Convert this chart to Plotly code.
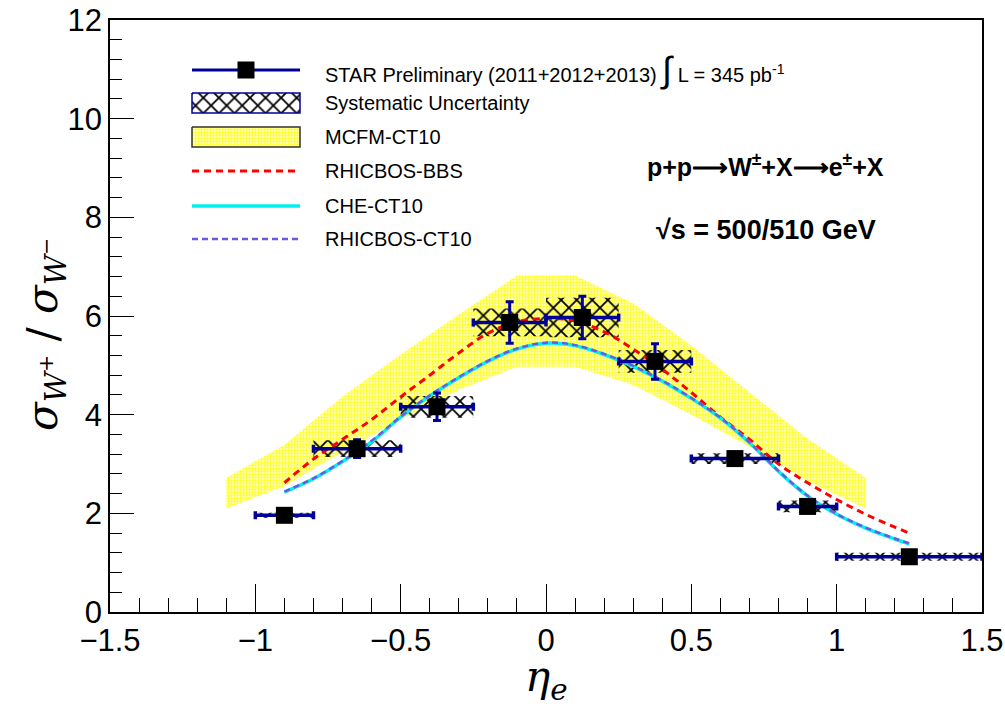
import plotly.graph_objects as go

# ---------------- data ----------------
eta = [-0.9, -0.65, -0.375, -0.125, 0.125, 0.375, 0.65, 0.9, 1.25]
eta_half = [0.1, 0.15, 0.125, 0.125, 0.125, 0.125, 0.15, 0.1, 0.25]
ratio = [1.96, 3.31, 4.16, 5.87, 5.97, 5.08, 3.11, 2.14, 1.12]
stat_err = [0.06, 0.18, 0.28, 0.42, 0.43, 0.36, 0.10, 0.12, 0.06]
sys_err = [0.05, 0.17, 0.22, 0.28, 0.40, 0.23, 0.11, 0.12, 0.08]

mcfm_eta = [-1.1, -0.9, -0.7, -0.5, -0.3, -0.1, 0.1, 0.3, 0.5, 0.7, 0.9, 1.1]
mcfm_hi = [2.72, 3.39, 4.37, 5.22, 6.03, 6.82, 6.82, 6.26, 5.40, 4.45, 3.51, 2.72]
mcfm_lo = [2.10, 2.55, 3.25, 3.90, 4.50, 4.97, 4.97, 4.60, 4.00, 3.35, 2.65, 2.10]

theo_eta = [-0.9, -0.8, -0.7, -0.6, -0.5, -0.4, -0.3, -0.2, -0.1, 0.0, 0.1, 0.2,
            0.3, 0.4, 0.5, 0.6, 0.7, 0.8, 0.9, 1.0, 1.1, 1.2, 1.25]
rhicbos_bbs = [2.62, 3.10, 3.50, 3.90, 4.36, 4.80, 5.25, 5.65, 5.88, 5.95, 5.90, 5.68,
               5.33, 4.92, 4.45, 3.95, 3.50, 3.00, 2.62, 2.28, 1.98, 1.72, 1.60]
che_ct10 = [2.43, 2.70, 3.05, 3.45, 3.95, 4.38, 4.75, 5.08, 5.33, 5.45, 5.40, 5.22,
            4.98, 4.68, 4.33, 3.93, 3.43, 2.85, 2.35, 1.98, 1.70, 1.48, 1.38]
rhicbos_ct10 = [2.44, 2.71, 3.06, 3.47, 3.96, 4.39, 4.76, 5.09, 5.34, 5.46, 5.41, 5.23,
                4.99, 4.69, 4.34, 3.94, 3.44, 2.86, 2.36, 1.99, 1.71, 1.49, 1.39]

x_ticks = [-1.5, -1.0, -0.5, 0.0, 0.5, 1.0, 1.5]
y_ticks = [0, 2, 4, 6, 8, 10, 12]

# ---------------- style ----------------
NAVY = "#000099"
YELLOW = "#ffff00"
RED = "#ff0000"
CYAN = "#00f0f0"
PURPLE = "#6a5ae0"
FONT = "Liberation Sans"
SERIF = "DejaVu Serif"

BAND_PATTERN = dict(shape=".", fgcolor=YELLOW, bgcolor="rgba(255,255,255,0)", size=3,
                    solidity=0.7, fgopacity=0.8)
HATCH_PATTERN = dict(shape="x", fgcolor="#000000", bgcolor="rgba(0,0,0,0)", size=11,
                     solidity=0.3, fgopacity=1, fillmode="replace")

fig = go.Figure()

# MCFM band
fig.add_trace(go.Scatter(
    x=mcfm_eta + mcfm_eta[::-1], y=mcfm_hi + mcfm_lo[::-1],
    fill="toself", mode="lines", line=dict(width=0, color="rgba(0,0,0,0)"),
    fillcolor="rgba(0,0,0,0)", fillpattern=BAND_PATTERN,
    showlegend=False, hoverinfo="skip"))

# systematic boxes (one polygon per point, separated by None)
box_x, box_y = [], []
for c, hw, r, s in zip(eta, eta_half, ratio, sys_err):
    box_x += [c - hw, c + hw, c + hw, c - hw, c - hw, None]
    box_y += [r - s, r - s, r + s, r + s, r - s, None]
fig.add_trace(go.Scatter(
    x=box_x, y=box_y, fill="toself", mode="lines",
    line=dict(width=0, color="rgba(0,0,0,0)"), fillcolor="rgba(0,0,0,0)",
    fillpattern=HATCH_PATTERN, showlegend=False, hoverinfo="skip"))

# theory curves
fig.add_trace(go.Scatter(x=theo_eta, y=rhicbos_bbs, mode="lines",
                         line=dict(color=RED, width=3, dash="7px,5px", shape="spline"),
                         showlegend=False))
fig.add_trace(go.Scatter(x=theo_eta, y=che_ct10, mode="lines",
                         line=dict(color=CYAN, width=3.5, shape="spline"),
                         showlegend=False))
fig.add_trace(go.Scatter(x=theo_eta, y=rhicbos_ct10, mode="lines",
                         line=dict(color=PURPLE, width=2.5, dash="6px,4px", shape="spline"),
                         showlegend=False))

# data points
fig.add_trace(go.Scatter(
    x=eta, y=ratio, mode="markers",
    marker=dict(symbol="square", size=17, color="black"),
    error_x=dict(type="data", array=eta_half, color=NAVY, thickness=3.5, width=4),
    error_y=dict(type="data", array=stat_err, color=NAVY, thickness=3, width=4),
    showlegend=False))

# ---------------- hand-built legend on an overlay axis (0..1 of the frame) -------------
L, R, T, B = 110, 982, 20, 612
def fx(px):
    return (px - L) / (R - L)
def fy(py):
    return (B - py) / (B - T)

sx0, sx1 = fx(192), fx(300)
rows = [70, 103, 137, 171, 206, 239]

fig.add_trace(go.Scatter(x=[sx0, sx1], y=[fy(rows[0])] * 2, mode="lines",
                         line=dict(color=NAVY, width=3), xaxis="x2", yaxis="y2",
                         showlegend=False, hoverinfo="skip"))
fig.add_trace(go.Scatter(x=[(sx0 + sx1) / 2], y=[fy(rows[0])], mode="markers",
                         marker=dict(symbol="square", size=17, color="black"),
                         xaxis="x2", yaxis="y2", showlegend=False, hoverinfo="skip"))
h = 10
fig.add_trace(go.Scatter(
    x=[sx0, sx1, sx1, sx0, sx0],
    y=[fy(rows[1] - h), fy(rows[1] - h), fy(rows[1] + h), fy(rows[1] + h), fy(rows[1] - h)],
    fill="toself", mode="lines", line=dict(color=NAVY, width=1.5), fillcolor="rgba(0,0,0,0)",
    fillpattern=HATCH_PATTERN, xaxis="x2", yaxis="y2", showlegend=False, hoverinfo="skip"))
fig.add_trace(go.Scatter(
    x=[sx0, sx1, sx1, sx0, sx0],
    y=[fy(rows[2] - h), fy(rows[2] - h), fy(rows[2] + h), fy(rows[2] + h), fy(rows[2] - h)],
    fill="toself", mode="lines", line=dict(color="#333333", width=1.5), fillcolor="rgba(0,0,0,0)",
    fillpattern=BAND_PATTERN, xaxis="x2", yaxis="y2", showlegend=False, hoverinfo="skip"))
for row, col, wid, dash in [(rows[3], RED, 3, "7px,5px"), (rows[4], CYAN, 3.5, "solid"),
                            (rows[5], PURPLE, 2.5, "6px,4px")]:
    fig.add_trace(go.Scatter(x=[sx0, sx1], y=[fy(row)] * 2, mode="lines",
                             line=dict(color=col, width=wid, dash=dash),
                             xaxis="x2", yaxis="y2", showlegend=False, hoverinfo="skip"))

legend_texts = [
    "STAR Preliminary (2011+2012+2013) <span style='font-size:36px'>∫</span> L = 345 pb<sup>-1</sup>",
    "Systematic Uncertainty",
    "MCFM-CT10",
    "RHICBOS-BBS",
    "CHE-CT10",
    "RHICBOS-CT10",
]
annotations = []
for row, txt in zip(rows, legend_texts):
    annotations.append(dict(x=fx(323), y=fy(row), xref="paper", yref="paper",
                            text=txt, showarrow=False, xanchor="left", yanchor="middle",
                            font=dict(family=FONT, size=20, color="black")))

annotations.append(dict(x=fx(765), y=fy(165), xref="paper", yref="paper",
                        text="<b>p+p⟶W<sup>±</sup>+X⟶e<sup>±</sup>+X</b>", showarrow=False,
                        xanchor="center", yanchor="middle",
                        font=dict(family=FONT, size=25, color="black")))
annotations.append(dict(x=fx(766), y=fy(230), xref="paper", yref="paper",
                        text="<b>√s = 500/510 GeV</b>", showarrow=False,
                        xanchor="center", yanchor="middle",
                        font=dict(family=FONT, size=27, color="black")))
annotations.append(dict(x=fx(46), y=fy(335), xref="paper", yref="paper",
                        text="<i>σ</i><sub><i>W</i><sup>+</sup></sub> / <i>σ</i><sub><i>W</i><sup>−</sup></sub>",
                        textangle=-90, showarrow=False, xanchor="center", yanchor="middle",
                        font=dict(family=SERIF, size=42, color="black")))
annotations.append(dict(x=fx(546), y=fy(679), xref="paper", yref="paper",
                        text="<i>η</i><sub><i>e</i></sub>",
                        showarrow=False, xanchor="center", yanchor="middle",
                        font=dict(family=SERIF, size=42, color="black")))

axis_common = dict(showgrid=False, zeroline=False, showline=True, linecolor="black",
                   linewidth=1.5, mirror=True, ticks="inside", tickcolor="black",
                   tickwidth=1.2, automargin=False,
                   tickfont=dict(family=FONT, size=31, color="black"))

fig.update_layout(
    width=1005, height=707,
    margin=dict(l=L, r=1005 - R, t=T, b=707 - B),
    paper_bgcolor="white", plot_bgcolor="white",
    showlegend=False,
    xaxis=dict(range=[-1.5, 1.5], tickvals=x_ticks, ticklen=28,
               minor=dict(ticks="inside", dtick=0.1, tick0=0, ticklen=14,
                          tickcolor="black", tickwidth=1, showgrid=False),
               **axis_common),
    yaxis=dict(range=[0, 12], tickvals=y_ticks, ticklen=24,
               minor=dict(ticks="inside", dtick=0.4, tick0=0, ticklen=12,
                          tickcolor="black", tickwidth=1, showgrid=False),
               **axis_common),
    xaxis2=dict(range=[0, 1], overlaying="x", visible=False, fixedrange=True),
    yaxis2=dict(range=[0, 1], overlaying="y", visible=False, fixedrange=True),
    annotations=annotations,
)

fig.write_html("out.html")
